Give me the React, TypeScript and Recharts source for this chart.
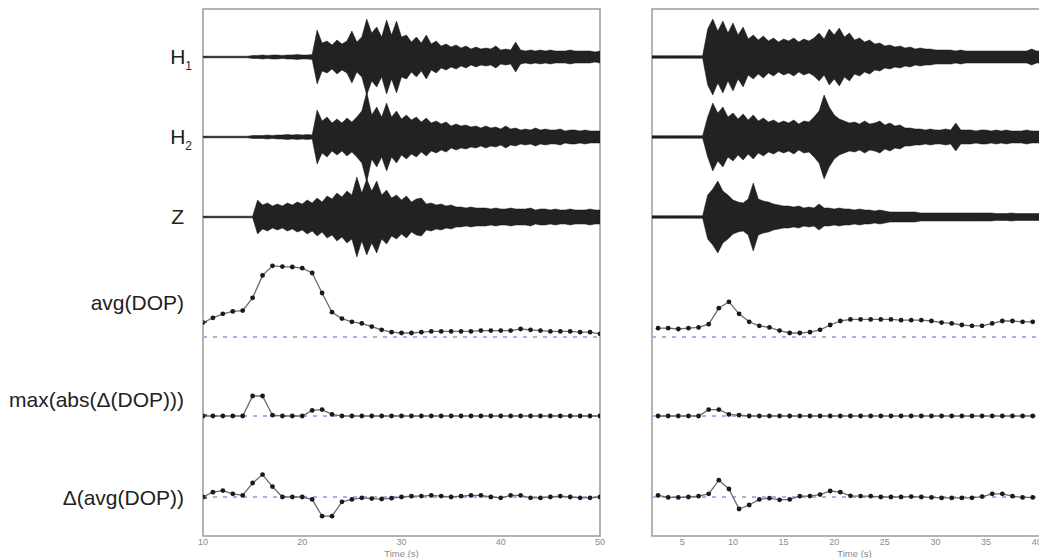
import { Area, ComposedChart, Line, ReferenceArea, ReferenceLine, XAxis, YAxis } from 'recharts';

// seismogram envelopes (half amplitude, px-ish counts), sampled every 0.5 s
const SEISMO_STEP = 0.5;
const leftSeismoStart = 10;
const rightSeismoStart = 2;

const leftH1 = [
  0.8, 0.8, 0.8, 0.8, 0.8, 0.8, 0.8, 0.8, 0.8, 0.8,
  1.5, 1.5, 2, 1.5, 2, 2, 1.5, 2, 2, 2.5, 2, 2, 2.5,
  27, 14, 16, 12, 17, 13, 16, 26, 15, 20,
  38, 24, 30, 20, 37, 22, 36, 20, 22, 15,
  20, 14, 22, 13, 16, 11, 13, 10, 12, 9,
  11, 8, 10, 8, 9, 8, 11, 7, 8, 7,
  15, 7, 6, 7, 6, 7, 6, 7, 6, 6,
  6, 7, 6, 6, 6, 6, 5, 6,
];
const leftH2 = [
  0.8, 0.8, 0.8, 0.8, 0.8, 0.8, 0.8, 0.8, 0.8, 0.8,
  1.5, 1.5, 1.5, 2, 1.5, 2, 2, 2.5, 2, 2.5, 2, 2.5, 2,
  27, 16, 20, 14, 18, 14, 19, 15, 20, 26,
  45, 22, 30, 20, 34, 20, 26, 18, 22, 17,
  20, 15, 19, 14, 16, 13, 15, 11, 13, 11,
  12, 10, 11, 9, 11, 9, 10, 8, 11, 8,
  9, 7, 8, 7, 9, 7, 8, 7, 7, 8,
  6, 7, 7, 6, 7, 6, 6, 6,
];
const leftZ = [
  0.8, 0.8, 0.8, 0.8, 0.8, 0.8, 0.8, 0.8, 0.8, 0.8, 0.8,
  17, 12, 14, 11, 13, 11, 14, 12, 15, 13,
  17, 14, 19, 15, 21, 18, 24, 20, 26, 22,
  40, 24, 38, 26, 36, 22, 27, 19, 22, 17,
  21, 15, 18, 19, 13, 14, 12, 13, 11, 12,
  10, 10, 9, 10, 9, 9, 9, 8, 9, 8,
  8, 9, 8, 8, 8, 9, 7, 8, 8, 7,
  8, 7, 7, 8, 7, 7, 7, 8, 7, 7,
];

const rightH1 = [
  1.3, 1.3, 1.3, 1.3, 1.3, 1.3, 1.3, 1.3, 1.3, 1.3, 1.3,
  28, 38, 26, 36, 24, 34, 22, 30, 18, 22,
  17, 21, 16, 19, 15, 18, 16, 19, 15, 18,
  16, 19, 24, 18, 28, 22, 29, 20, 24, 17,
  19, 15, 17, 13, 14, 11, 12, 10, 11, 9,
  10, 8, 9, 8, 8, 7, 7, 7, 7, 6,
  7, 6, 6, 6, 6, 6, 6, 6, 6, 6,
  6, 6, 6, 6, 8, 6, 6, 6, 6, 6,
];
const rightH2 = [
  1.3, 1.3, 1.3, 1.3, 1.3, 1.3, 1.3, 1.3, 1.3, 1.3, 1.3,
  20, 34, 24, 30, 20, 24, 18, 23, 17, 22,
  16, 19, 15, 17, 14, 16, 14, 17, 13, 16,
  15, 20, 26, 42, 30, 22, 18, 16, 14, 15,
  13, 16, 13, 14, 16, 12, 14, 11, 12, 9,
  9, 8, 8, 7, 8, 7, 7, 8, 7, 14,
  7, 7, 7, 6, 7, 7, 6, 7, 6, 7,
  6, 6, 6, 7, 6, 6, 6, 6, 6, 6,
];
const rightZ = [
  1.3, 1.3, 1.3, 1.3, 1.3, 1.3, 1.3, 1.3, 1.3, 1.3, 1.3,
  22, 28, 36, 26, 22, 17, 15, 14, 18, 34,
  18, 16, 15, 13, 12, 11, 11, 10, 11, 9,
  10, 9, 13, 9, 9, 8, 9, 8, 8, 7,
  8, 7, 7, 6, 7, 6, 5, 5, 5, 5,
  5, 5, 4, 4, 4, 4, 4, 4, 4, 4,
  4, 4, 4, 4, 4, 4, 4, 3.5, 3.5, 3.5,
  4, 3.5, 3.5, 3.5, 3.5, 3.5, 3.5, 3.5, 3.5, 3.5,
];

// DOP measures, one value per window
const leftDopTime = [
  10, 11, 12, 13, 14, 15, 16, 17, 18, 19, 20, 21, 22, 23, 24, 25, 26, 27, 28, 29,
  30, 31, 32, 33, 34, 35, 36, 37, 38, 39, 40, 41, 42, 43, 44, 45, 46, 47, 48, 49, 50,
];
const leftAvgDop = [
  0.18, 0.24, 0.29, 0.32, 0.33, 0.49, 0.77, 0.89, 0.88, 0.875, 0.86, 0.8, 0.55, 0.31,
  0.23, 0.19, 0.17, 0.13, 0.09, 0.06, 0.05, 0.05, 0.06, 0.07, 0.07, 0.07, 0.07, 0.07,
  0.08, 0.08, 0.08, 0.08, 0.1, 0.09, 0.08, 0.07, 0.07, 0.07, 0.06, 0.06, 0.04,
];
const leftMaxAbsDelta = [
  0, 0, 0, 0, 0, 0.25, 0.25, 0.01, 0, 0, 0, 0.07, 0.08, 0.02, 0, 0, 0, 0, 0, 0,
  0, 0, 0, 0, 0, 0, 0, 0, 0, 0, 0, 0, 0, 0, 0, 0, 0, 0, 0, 0, 0,
];
const leftDeltaAvg = [
  0, 0.06, 0.08, 0.04, 0.02, 0.175, 0.28, 0.13, 0, 0, 0, -0.03, -0.24, -0.24, -0.06,
  -0.03, -0.01, -0.02, -0.025, -0.015, 0, 0.01, 0.012, 0.02, 0.012, 0, 0.01, 0.02, 0.02,
  0, -0.01, 0.02, 0.02, -0.01, -0.012, 0, 0.01, 0, -0.01, -0.01, 0,
];

const rightDopTime = [
  2.6, 3.6, 4.6, 5.6, 6.6, 7.6, 8.6, 9.6, 10.6, 11.6, 12.6, 13.6, 14.6, 15.6, 16.6,
  17.6, 18.6, 19.6, 20.6, 21.6, 22.6, 23.6, 24.6, 25.6, 26.6, 27.6, 28.6, 29.6, 30.6,
  31.6, 32.6, 33.6, 34.6, 35.6, 36.6, 37.6, 38.6, 39.6,
];
const rightAvgDop = [
  0.11, 0.11, 0.1, 0.11, 0.12, 0.16, 0.36, 0.44, 0.29, 0.19, 0.14, 0.12, 0.08, 0.05,
  0.05, 0.06, 0.09, 0.15, 0.2, 0.22, 0.22, 0.22, 0.22, 0.22, 0.21, 0.21, 0.21, 0.2,
  0.18, 0.17, 0.15, 0.14, 0.14, 0.17, 0.2, 0.2, 0.19, 0.19,
];
const rightMaxAbsDelta = [
  0, 0, 0, 0, 0, 0.08, 0.08, 0.02, 0.01, 0, 0, 0, 0, 0, 0, 0, 0, 0, 0,
  0, 0, 0, 0, 0, 0, 0, 0, 0, 0, 0, 0, 0, 0, 0, 0, 0, 0, 0,
];
const rightDeltaAvg = [
  0.02, -0.005, -0.005, 0, 0.01, 0.04, 0.21, 0.1, -0.15, -0.1, -0.03, -0.015, -0.035,
  -0.03, 0.01, 0.012, 0.03, 0.075, 0.06, 0.015, 0.012, 0.01, 0, 0, 0, 0.005, 0, -0.005,
  -0.012, -0.012, -0.012, -0.01, 0.005, 0.04, 0.04, 0.01, -0.005, -0.005,
];

const trackLabels = ['H', 'H', 'Z', 'avg(DOP)', 'max(abs(Δ(DOP)))', 'Δ(avg(DOP))'];
const trackSubs = ['1', '2', '', '', '', ''];
const leftTimeTicks = [10, 20, 30, 40, 50];
const rightTimeTicks = [5, 10, 15, 20, 25, 30, 35, 40];

// layout: plot is 527px tall, y axis runs 0..527 bottom to top
const PLOT_H = 527;
const BASE = { h1: 479, h2: 399, z: 319, avg: 199, max: 120, delta: 39 };
const DOP_SCALE = 80;
const LABEL_TICKS = [479, 399, 319, 214, 121, 38];
const LABEL_DY = [0, 0, 0, -19, -15, 0];
const FRAME = '#9a9a9a';
const DASH = '#aab0e6';

const seismoRows = (start: number, amps: number[], base: number) =>
  amps.map((a, i) => ({ t: start + i * SEISMO_STEP, band: [base - a, base + a] }));

const dopRows = (times: number[], vals: number[], base: number) =>
  times.map((t, i) => ({ t, v: base + vals[i] * DOP_SCALE }));

const TrackTick = (props: any) => {
  const { x, y, payload } = props;
  const i = LABEL_TICKS.indexOf(payload.value);
  if (i < 0) return null;
  return (
    <g>
      <line x1={x} x2={x + 4} y1={y} y2={y} stroke="#333" strokeWidth={1.5} />
      <text
        x={i < 2 ? x - 11 : x - 19}
        y={y + LABEL_DY[i]}
        dy="0.35em"
        textAnchor="end"
        fontSize={21}
        fill="#222"
      >
        {trackLabels[i]}
        {trackSubs[i] ? (
          <tspan fontSize={12} dy={6}>
            {trackSubs[i]}
          </tspan>
        ) : null}
      </text>
    </g>
  );
};

const TimeTick = ({ x, y, payload }: any) => (
  <text x={x} y={y + 9} textAnchor="middle" fontSize={9} fill="#8a8a8a">
    {payload.value}
  </text>
);

interface PanelProps {
  left: number;
  width: number;
  marginLeft: number;
  marginRight: number;
  domain: [number, number];
  ticks: number[];
  seismoStart: number;
  h1: number[];
  h2: number[];
  z: number[];
  dopTime: number[];
  avg: number[];
  maxDelta: number[];
  delta: number[];
  showLabels: boolean;
}

const Panel = (p: PanelProps) => {
  const lineProps = {
    type: 'linear' as const,
    dataKey: 'v',
    stroke: '#6b6b6b',
    strokeWidth: 1.3,
    dot: { r: 2.4, fill: '#1a1a1a', stroke: 'none' },
    activeDot: false,
    isAnimationActive: false,
  };
  const areaProps = {
    type: 'linear' as const,
    dataKey: 'band',
    stroke: '#161616',
    strokeWidth: 0.5,
    fill: '#161616',
    fillOpacity: 0.95,
    dot: false,
    activeDot: false,
    isAnimationActive: false,
  };
  return (
    <div style={{ position: 'absolute', left: p.left, top: 0 }}>
      <ComposedChart
        width={p.width}
        height={558}
        margin={{ top: 9, right: p.marginRight, bottom: 0, left: p.marginLeft }}
      >
        <XAxis
          dataKey="t"
          type="number"
          domain={p.domain}
          ticks={p.ticks}
          interval={0}
          allowDataOverflow
          height={22}
          axisLine={false}
          tickLine={false}
          tickSize={0}
          tickMargin={0}
          tick={<TimeTick />}
          label={{ value: 'Time (s)', position: 'insideBottom', offset: 1, fontSize: 9.5, fill: '#8a8a8a' }}
        />
        <YAxis
          type="number"
          domain={[0, PLOT_H]}
          ticks={LABEL_TICKS}
          interval={0}
          allowDataOverflow
          width={203}
          hide={!p.showLabels}
          axisLine={false}
          tickLine={false}
          tickSize={0}
          tickMargin={0}
          tick={<TrackTick />}
        />
        <ReferenceArea
          x1={p.domain[0]}
          x2={p.domain[1]}
          y1={0}
          y2={PLOT_H}
          fill="none"
          stroke={FRAME}
          strokeWidth={1.5}
        />
        <ReferenceLine y={BASE.avg} stroke={DASH} strokeWidth={2} strokeDasharray="4 6" />
        <ReferenceLine y={BASE.max} stroke={DASH} strokeWidth={2} strokeDasharray="4 6" />
        <ReferenceLine y={BASE.delta} stroke={DASH} strokeWidth={2} strokeDasharray="4 6" />
        <Area {...areaProps} data={seismoRows(p.seismoStart, p.h1, BASE.h1)} />
        <Area {...areaProps} data={seismoRows(p.seismoStart, p.h2, BASE.h2)} />
        <Area {...areaProps} data={seismoRows(p.seismoStart, p.z, BASE.z)} />
        <Line {...lineProps} data={dopRows(p.dopTime, p.avg, BASE.avg)} />
        <Line {...lineProps} data={dopRows(p.dopTime, p.maxDelta, BASE.max)} />
        <Line {...lineProps} data={dopRows(p.dopTime, p.delta, BASE.delta)} />
      </ComposedChart>
    </div>
  );
};

export default function App() {
  return (
    <div
      style={{
        position: 'fixed',
        left: 0,
        top: 0,
        width: 1039,
        height: 558,
        overflow: 'hidden',
        background: '#fff',
        fontFamily: '"Liberation Sans", Arial, sans-serif',
      }}
    >
      <Panel
        left={0}
        width={620}
        marginLeft={0}
        marginRight={20}
        domain={[10, 50]}
        ticks={leftTimeTicks}
        seismoStart={leftSeismoStart}
        h1={leftH1}
        h2={leftH2}
        z={leftZ}
        dopTime={leftDopTime}
        avg={leftAvgDop}
        maxDelta={leftMaxAbsDelta}
        delta={leftDeltaAvg}
        showLabels
      />
      <Panel
        left={640}
        width={427}
        marginLeft={12}
        marginRight={10}
        domain={[2, 42]}
        ticks={rightTimeTicks}
        seismoStart={rightSeismoStart}
        h1={rightH1}
        h2={rightH2}
        z={rightZ}
        dopTime={rightDopTime}
        avg={rightAvgDop}
        maxDelta={rightMaxAbsDelta}
        delta={rightDeltaAvg}
        showLabels={false}
      />
    </div>
  );
}
